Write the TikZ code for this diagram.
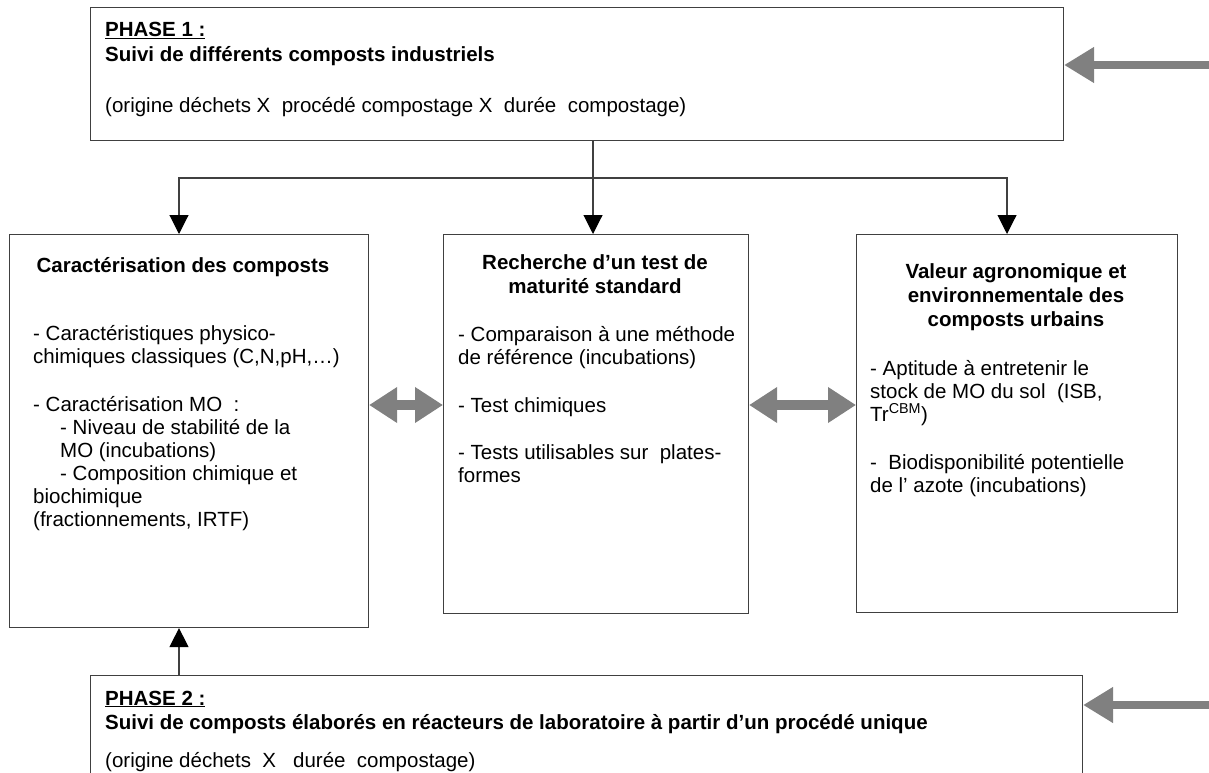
\documentclass[tikz,border=0pt]{standalone}
\usepackage{fontspec}
\setmainfont{Liberation Sans}
\usetikzlibrary{arrows.meta}
\definecolor{bigarrow}{RGB}{128,128,128}
\tikzset{
  box/.style={draw=black!75, line width=1.1pt, inner sep=0, anchor=north west},
  txt/.style={anchor=base west, inner sep=0, font=\fontsize{20.5}{24}\selectfont},
  head/.style={txt, font=\fontsize{20.5}{24}\selectfont\bfseries},
  link/.style={draw=black!75, line width=1.1pt, -{Triangle[length=19pt,width=19pt,color=black]}},
  fat/.style={draw=bigarrow, line width=8pt, -{Triangle[length=30pt,width=34pt]}},
  fatboth/.style={draw=bigarrow, line width=10pt, {Triangle[length=28pt,width=34pt]}-{Triangle[length=28pt,width=34pt]}}
}
\begin{document}
\begin{tikzpicture}[x=1pt,y=-1pt]
  \useasboundingbox (0,0) rectangle (1209,773);
  % boxes
  \node[box, minimum width=973pt, minimum height=133pt] (phase1) at (90,7) {};
  \node[box, minimum width=359pt, minimum height=393pt] (carac) at (9,234) {};
  \node[box, minimum width=305pt, minimum height=379pt] (matur) at (443,234) {};
  \node[box, minimum width=321pt, minimum height=378pt] (valeur) at (856,234) {};
  \node[box, minimum width=992pt, minimum height=140pt] (phase2) at (90,675) {};
  % phase 1
  \node[head] (p1a) at (105,37) {\underline{PHASE 1 :}};
  \node[head] (p1b) at (105,62) {Suivi de différents composts industriels};
  \node[txt] (p1c) at (105,113) {(origine déchets X\ \ procédé compostage X\ \ durée\ \ compostage)};
  % caracterisation
  \node[head, anchor=base] (c0) at (183,272) {Caractérisation des composts};
  \node[txt] (c1) at (33,340) {- Caractéristiques physico-};
  \node[txt] (c2) at (33,363) {chimiques classiques (C,N,pH,…)};
  \node[txt] (c3) at (33,411) {- Caractérisation MO\ \ :};
  \node[txt] (c4) at (60,434) {- Niveau de stabilité de la};
  \node[txt] (c5) at (60,457) {MO (incubations)};
  \node[txt] (c6) at (60,480) {- Composition chimique et};
  \node[txt] (c7) at (33,503) {biochimique};
  \node[txt] (c8) at (33,526) {(fractionnements, IRTF)};
  % maturite
  \node[head, anchor=base] (m0) at (595,269) {Recherche d’un test de};
  \node[head, anchor=base] (m1) at (595,293) {maturité standard};
  \node[txt] (m2) at (458,341) {- Comparaison à une méthode};
  \node[txt] (m3) at (458,364) {de référence (incubations)};
  \node[txt] (m4) at (458,412) {- Test chimiques};
  \node[txt] (m5) at (458,459) {- Tests utilisables sur\ \ plates-};
  \node[txt] (m6) at (458,482) {formes};
  % valeur
  \node[head, anchor=base] (v0) at (1016,278) {Valeur agronomique et};
  \node[head, anchor=base] (v1) at (1016,302) {environnementale des};
  \node[head, anchor=base] (v2) at (1016,326) {composts urbains};
  \node[txt] (v3) at (870,375) {- Aptitude à entretenir le};
  \node[txt] (v4) at (870,398) {stock de MO du sol\ \ (ISB,};
  \node[txt] (v5) at (870,421) {Tr\textsuperscript{CBM})};
  \node[txt] (v6) at (870,469) {-\ \ Biodisponibilité potentielle};
  \node[txt] (v7) at (870,492) {de l' azote (incubations)};
  % phase 2
  \node[head] (p2a) at (105,705) {\underline{PHASE 2 :}};
  \node[head] (p2b) at (105,729) {Suivi de composts élaborés en réacteurs de laboratoire à partir d’un procédé unique};
  \node[txt] (p2c) at (105,767) {(origine déchets\ \ X\ \ \ durée\ \ compostage)};
  % liens
  \coordinate (split) at (593,178);
  \draw[draw=black!75, line width=1.1pt] (phase1.south -| split) -- (split);
  \draw[link] (split) -- (179,178) -- (carac.north -| 179,0);
  \draw[link] (split) -- (matur.north -| split);
  \draw[link] (split) -- (1007,178) -- (valeur.north -| 1007,0);
  \draw[link] (phase2.north -| 179,0) -- (carac.south -| 179,0);
  % grosses fleches
  \coordinate (in1) at (1209,65);
  \coordinate (in2) at (1209,705);
  \draw[fat] (in1) -- (phase1.east |- in1);
  \draw[fat] (in2) -- (phase2.east |- in2);
  \draw[fatboth] (carac.east |- 0,405) -- (matur.west |- 0,405);
  \draw[fatboth] (matur.east |- 0,405) -- (valeur.west |- 0,405);
\end{tikzpicture}
\end{document}
